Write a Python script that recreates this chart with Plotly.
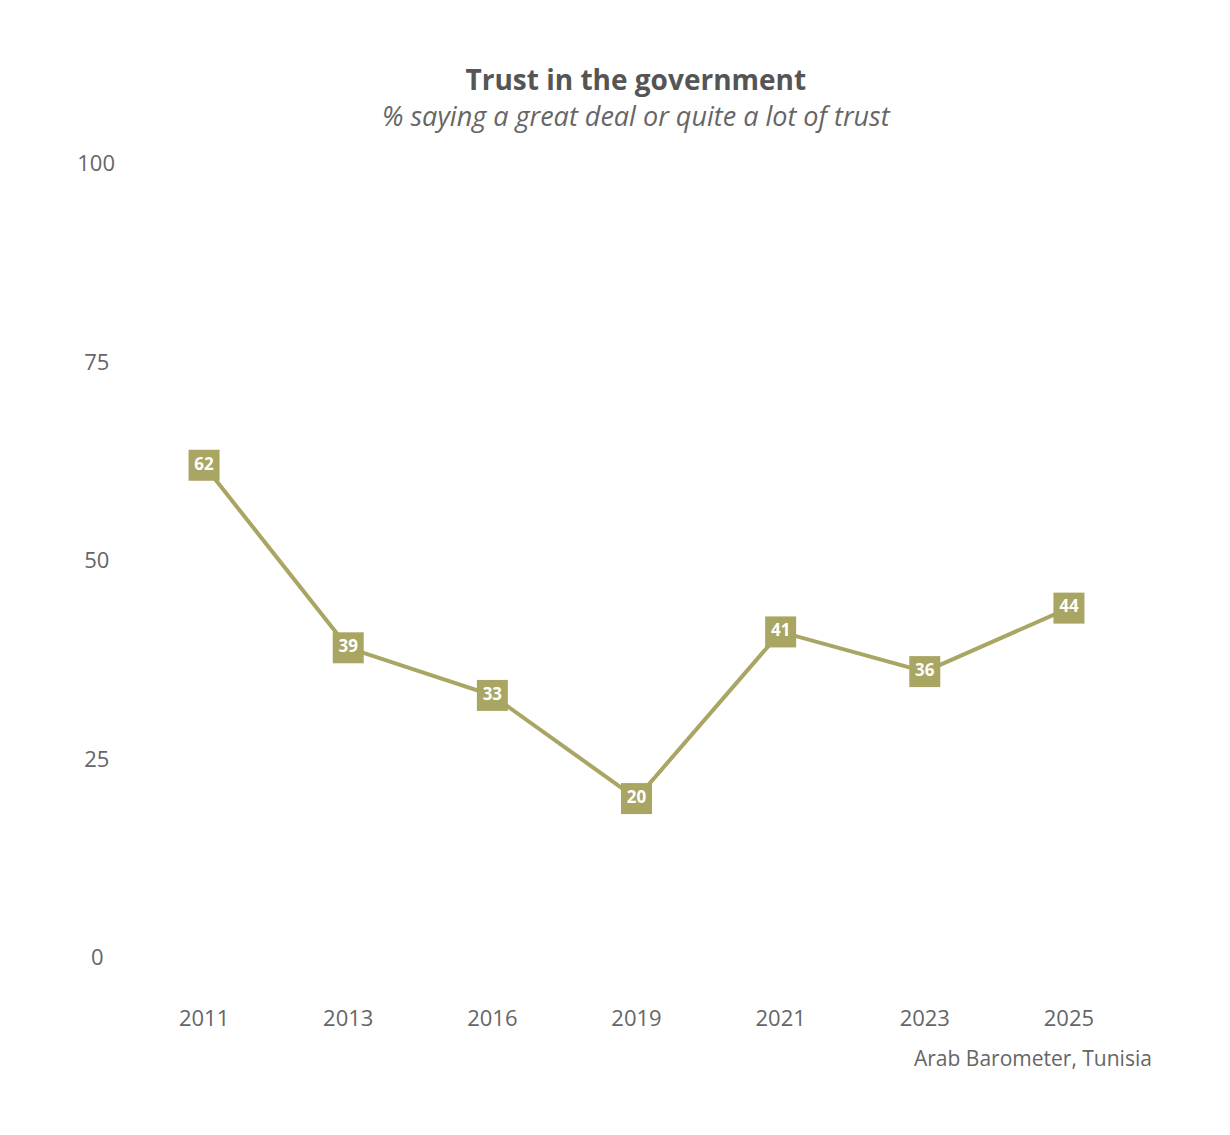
import plotly.graph_objects as go

years = ["2011", "2013", "2016", "2019", "2021", "2023", "2025"]
trust = [62, 39, 33, 20, 41, 36, 44]
y_ticks = [0, 25, 50, 75, 100]
y_tick_text = ["0&nbsp;&nbsp;", "25&nbsp;", "50&nbsp;", "75&nbsp;", "100"]

color = "#a9a562"
font = "Open Sans"

fig = go.Figure()
fig.add_trace(go.Scatter(
    x=years, y=trust, mode="lines+markers+text",
    line=dict(color=color, width=4),
    marker=dict(symbol="square", size=31, color=color),
    text=[str(v) for v in trust], textposition="middle center",
    textfont=dict(family=font, size=17, color="white", weight="bold"),
    hoverinfo="skip", cliponaxis=False,
))

W, H = 1230, 1135
L, R, T, B = 132, 89, 124, 138
pw, ph = W - L - R, H - T - B


def px_x(x):
    return (x - L) / pw


def px_y(y):
    return (H - B - y) / ph


title_html = ("<b>Trust in the government</b><br>"
              "<span style='font-size:27px;color:#666666'><i>% saying a great deal or quite a lot of trust</i></span>")

fig.update_layout(
    width=W, height=H,
    margin=dict(l=L, r=R, t=T, b=B),
    plot_bgcolor="white", paper_bgcolor="white",
    showlegend=False,
    font=dict(family=font, color="#666666"),
    xaxis=dict(type="category", range=[-0.5, 6.5], showgrid=False, zeroline=False,
               showline=False, ticks="", tickfont=dict(size=22, color="#666666"),
               ticklabelstandoff=6),
    yaxis=dict(range=[-5, 105], tickvals=y_ticks, ticktext=y_tick_text,
               showgrid=False, zeroline=False, showline=False, ticks="",
               tickfont=dict(size=22, color="#666666"), ticklabelstandoff=16),
    annotations=[
        dict(text=title_html, x=px_x(636), y=px_y(97),
             xref="paper", yref="paper", yanchor="middle", align="center",
             showarrow=False, font=dict(size=28, color="#555555")),
        dict(text="Arab Barometer, Tunisia", x=px_x(1154), y=px_y(1058), xref="paper", yref="paper",
             showarrow=False, xanchor="right", yanchor="middle",
             font=dict(size=21, color="#666666")),
    ],
)

fig.write_html("out.html")
